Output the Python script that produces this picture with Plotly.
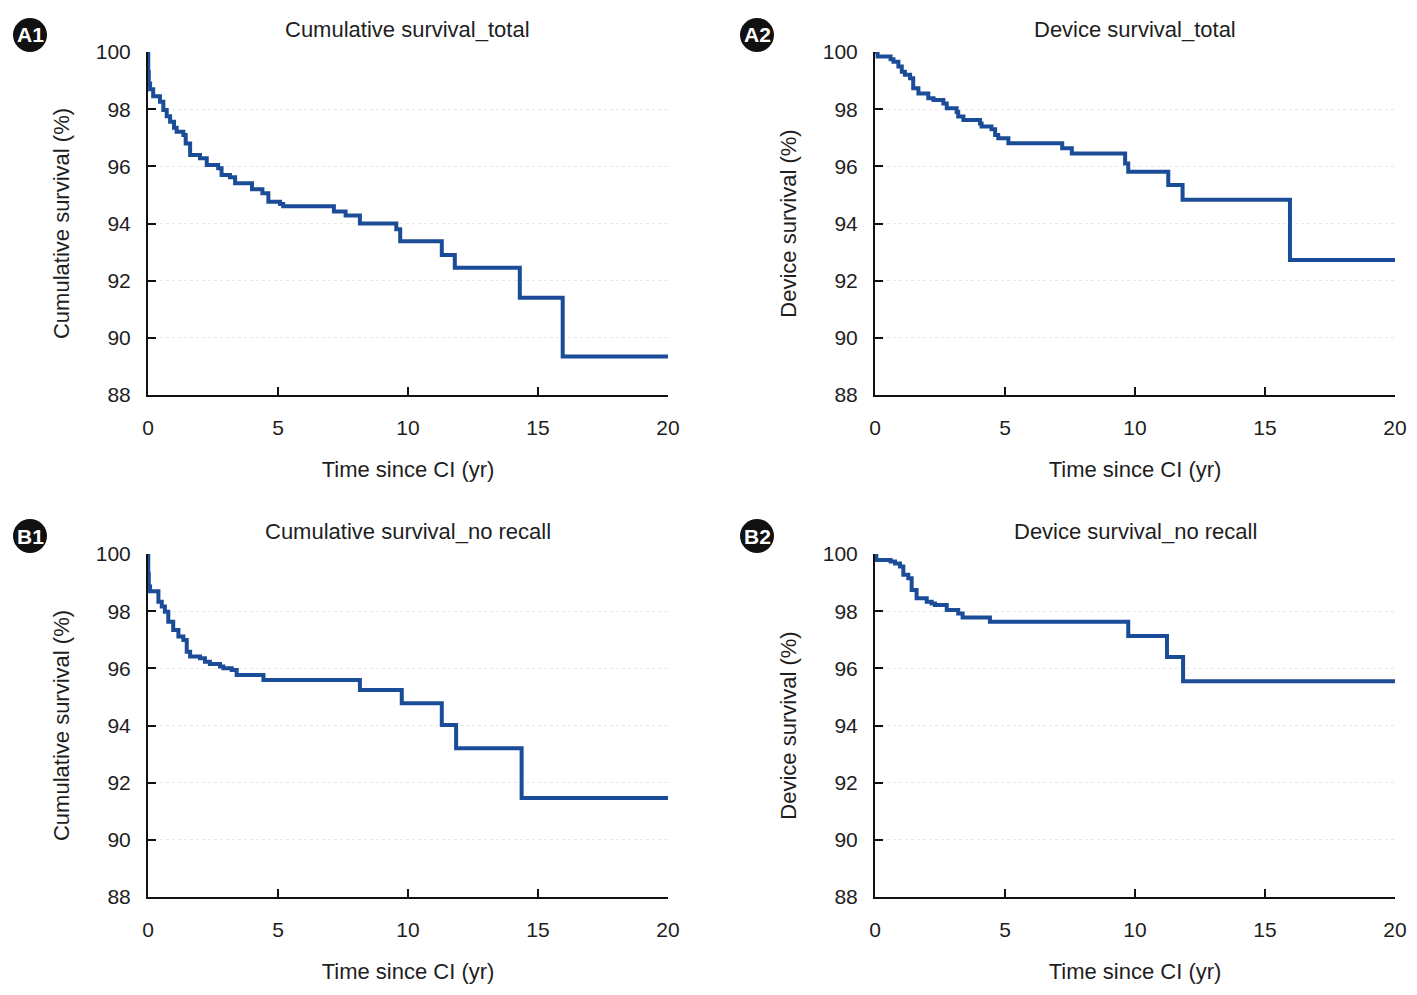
import plotly.graph_objects as go

# ---------------- data ----------------
A1_time = [0, 0.01, 0.03, 0.08, 0.2, 0.46, 0.59, 0.72, 0.85, 1.0, 1.1, 1.36, 1.45, 1.62, 2.0, 2.26,
           2.7, 2.83, 3.15, 3.35, 4.0, 4.4, 4.63, 5.08, 5.2, 7.15, 7.6, 8.15, 9.55, 9.7, 11.3, 11.8,
           14.3, 15.95, 20]
A1_surv = [100, 99.3, 98.9, 98.7, 98.45, 98.26, 97.97, 97.75, 97.56, 97.35, 97.21, 97.1, 96.8, 96.4,
           96.28, 96.05, 95.93, 95.7, 95.62, 95.41, 95.2, 95.06, 94.76, 94.68, 94.6, 94.42, 94.28,
           94.0, 93.8, 93.38, 92.9, 92.45, 91.4, 89.35, 89.35]

A2_time = [0, 0.1, 0.6, 0.71, 0.9, 1.03, 1.15, 1.35, 1.47, 1.67, 2.05, 2.25, 2.63, 2.76, 3.14, 3.2,
           3.4, 4.04, 4.1, 4.48, 4.62, 4.74, 5.13, 7.2, 7.57, 9.62, 9.74, 11.28, 11.83, 15.96, 20]
A2_surv = [100, 99.84, 99.75, 99.66, 99.49, 99.31, 99.2, 99.08, 98.73, 98.55, 98.38, 98.32, 98.2,
           98.03, 97.9, 97.74, 97.62, 97.5, 97.39, 97.3, 97.1, 96.98, 96.81, 96.63, 96.45, 96.1,
           95.81, 95.35, 94.83, 92.72, 92.72]

B1_time = [0, 0.01, 0.03, 0.08, 0.4, 0.53, 0.65, 0.78, 0.97, 1.17, 1.36, 1.49, 1.62, 2.0, 2.19, 2.38,
           2.77, 2.9, 3.22, 3.41, 4.44, 8.15, 9.76, 11.3, 11.85, 14.37, 20]
B1_surv = [100, 99.3, 98.86, 98.7, 98.33, 98.16, 97.98, 97.63, 97.34, 97.11, 96.99, 96.58, 96.41,
           96.35, 96.23, 96.15, 96.06, 96.0, 95.94, 95.77, 95.59, 95.24, 94.78, 94.02, 93.2, 91.46,
           91.46]

B2_time = [0, 0.05, 0.6, 0.77, 0.96, 1.09, 1.28, 1.41, 1.6, 1.99, 2.18, 2.31, 2.76, 3.2, 3.37, 4.42,
           9.74, 11.23, 11.85, 20]
B2_surv = [100, 99.79, 99.74, 99.67, 99.56, 99.27, 99.15, 98.74, 98.45, 98.33, 98.27, 98.22, 98.04,
           97.92, 97.78, 97.63, 97.13, 96.4, 95.55, 95.55]

panel_titles = ["Cumulative survival_total", "Device survival_total",
                "Cumulative survival_no recall", "Device survival_no recall"]
panel_labels = ["A1", "A2", "B1", "B2"]
y_titles = ["Cumulative survival (%)", "Device survival (%)",
            "Cumulative survival (%)", "Device survival (%)"]
x_title = "Time since CI (yr)"
x_ticks = [0, 5, 10, 15, 20]
y_ticks = [88, 90, 92, 94, 96, 98, 100]

series = [(A1_time, A1_surv), (A2_time, A2_surv), (B1_time, B1_surv), (B2_time, B2_surv)]

# ---------------- layout geometry (pixels, page coordinates) ----------------
PAGE_W, PAGE_H = 1417, 995
OFF = 8                      # default body margin of the html page
W, H = PAGE_W - 2 * OFF, PAGE_H - 2 * OFF
LINE_COLOR = "#1b4c97"
FONT = "Liberation Sans, Arial, sans-serif"
TXT = "#1e1e1e"


def px_x(p):
    return (p - OFF) / W


def px_y(p):
    return 1 - (p - OFF) / H


x_px = [(148, 668), (875, 1395), (148, 668), (875, 1395)]
y_px = [(52, 395), (52, 395), (554, 897), (554, 897)]
label_px = [(30, 35), (757, 35), (30, 536), (757, 536)]

fig = go.Figure()
layout = dict(
    width=W, height=H,
    margin=dict(l=0, r=0, t=0, b=0),
    paper_bgcolor="white", plot_bgcolor="white",
    showlegend=False,
    font=dict(family=FONT, size=21, color=TXT),
)
annotations = []
shapes = []

for i, (t, s) in enumerate(series):
    n = "" if i == 0 else str(i + 1)
    fig.add_trace(go.Scatter(
        x=t, y=s, mode="lines", line=dict(color=LINE_COLOR, width=4, shape="hv"),
        xaxis="x" + n, yaxis="y" + n, hoverinfo="x+y"))
    xd = [px_x(x_px[i][0]), px_x(x_px[i][1])]
    yd = [px_y(y_px[i][1]), px_y(y_px[i][0])]
    layout["xaxis" + n] = dict(
        domain=xd, anchor="y" + n, range=[0, 20], tickvals=x_ticks,
        ticks="inside", ticklen=8, tickwidth=2, tickcolor="#111",
        showline=True, linecolor="#111", linewidth=2, showgrid=False, zeroline=False,
        ticklabelstandoff=13, tickfont=dict(size=21, color=TXT, family=FONT),
        title=dict(text=x_title, standoff=23, font=dict(size=22, color=TXT, family=FONT)),
        automargin=False, fixedrange=True)
    layout["yaxis" + n] = dict(
        domain=yd, anchor="x" + n, range=[88, 100], tickvals=y_ticks,
        ticks="inside", ticklen=8, tickwidth=2, tickcolor="#111",
        showline=True, linecolor="#111", linewidth=2, zeroline=False,
        showgrid=True, gridcolor="#e8e8e8", griddash="dot", gridwidth=1,
        ticklabelstandoff=11, tickfont=dict(size=21, color=TXT, family=FONT),
        title=dict(text=y_titles[i], standoff=20, font=dict(size=22, color=TXT, family=FONT)),
        automargin=False, fixedrange=True)
    # panel title
    annotations.append(dict(
        text=panel_titles[i], x=(xd[0] + xd[1]) / 2, y=px_y(y_px[i][0] - 23),
        xref="paper", yref="paper", showarrow=False, xanchor="center", yanchor="middle",
        font=dict(size=22, color=TXT, family=FONT)))
    # panel label badge
    cx, cy = label_px[i]
    r = 17
    shapes.append(dict(type="circle", xref="paper", yref="paper",
                       x0=px_x(cx - r), x1=px_x(cx + r), y0=px_y(cy + r), y1=px_y(cy - r),
                       fillcolor="#111111", line=dict(width=0)))
    annotations.append(dict(
        text="<b>" + panel_labels[i] + "</b>", x=px_x(cx), y=px_y(cy), xref="paper", yref="paper",
        showarrow=False, xanchor="center", yanchor="middle",
        font=dict(size=21, color="white", family=FONT)))

layout["annotations"] = annotations
layout["shapes"] = shapes
fig.update_layout(**layout)
fig.write_html("out.html")
